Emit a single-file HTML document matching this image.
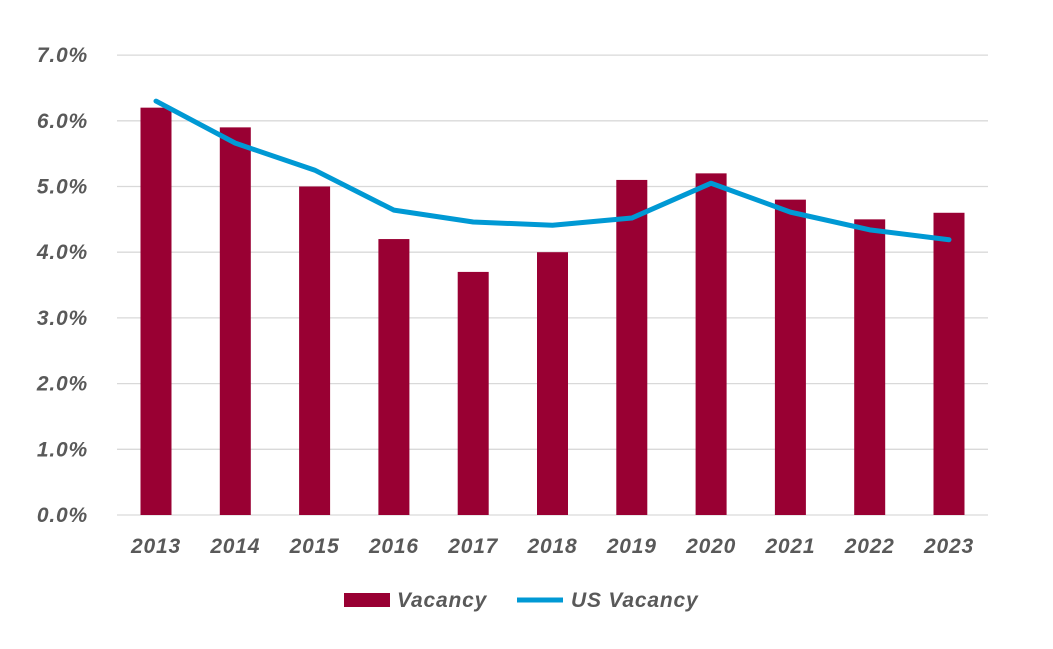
<!DOCTYPE html>
<html><head><meta charset="utf-8"><style>
body{margin:0;background:#fff;}
svg{display:block;font-family:"Liberation Sans",sans-serif;}
text{letter-spacing:0.8px;}
</style></head><body>
<svg id="chart" width="1053" height="649"></svg>
<script>
const categories=["2013","2014","2015","2016","2017","2018","2019","2020","2021","2022","2023"];
const vacancy=[6.2,5.9,5.0,4.2,3.7,4.0,5.1,5.2,4.8,4.5,4.6];
const usVacancy=[6.30,5.66,5.25,4.64,4.46,4.41,4.52,5.05,4.61,4.34,4.19];
const yTicks=[0,1,2,3,4,5,6,7];
const NS="http://www.w3.org/2000/svg";
const svg=document.getElementById('chart');
const y0=515,pxPer=65.7,x0=156,step=79.3,left=117,right=988;
const y=v=>y0-v*pxPer;
const x=i=>x0+i*step;
function mk(t,a){const e=document.createElementNS(NS,t);for(const k in a)e.setAttribute(k,a[k]);svg.appendChild(e);return e;}
yTicks.forEach(t=>{
  const g=mk('line',{x1:left,x2:right,y1:y(t),y2:y(t),stroke:'#d9d9d9','stroke-width':1.3});
  
  
  const l=mk('text',{x:88,y:y(t)+7,'text-anchor':'end','font-size':21,'font-weight':'bold','font-style':'italic',fill:'#595959'});
  l.textContent=t.toFixed(1)+'%';
  
  
});
vacancy.forEach((v,i)=>{
  const b=mk('rect',{x:x(i)-15.5,y:y(v),width:31,height:v*pxPer,fill:'#990033'});
  
  
});
categories.forEach((c,i)=>{
  const l=mk('text',{x:x(i),y:553,'text-anchor':'middle','font-size':21,'font-weight':'bold','font-style':'italic',fill:'#595959'});
  l.textContent=c;
  
  
});
const p=mk('polyline',{points:usVacancy.map((v,i)=>x(i)+','+y(v)).join(' '),fill:'none',stroke:'#0099d4','stroke-width':5,'stroke-linejoin':'round','stroke-linecap':'round'});


const s1=mk('rect',{x:344,y:593,width:46,height:14,fill:'#990033'});


const t1=mk('text',{x:397,y:607,'font-size':21,'font-weight':'bold','font-style':'italic',fill:'#595959'});
t1.textContent='Vacancy';


const s2=mk('line',{x1:517,x2:563,y1:600,y2:600,stroke:'#0099d4','stroke-width':5});


const t2=mk('text',{x:571,y:607,'font-size':21,'font-weight':'bold','font-style':'italic',fill:'#595959'});
t2.textContent='US Vacancy';


</script>
</body></html>
